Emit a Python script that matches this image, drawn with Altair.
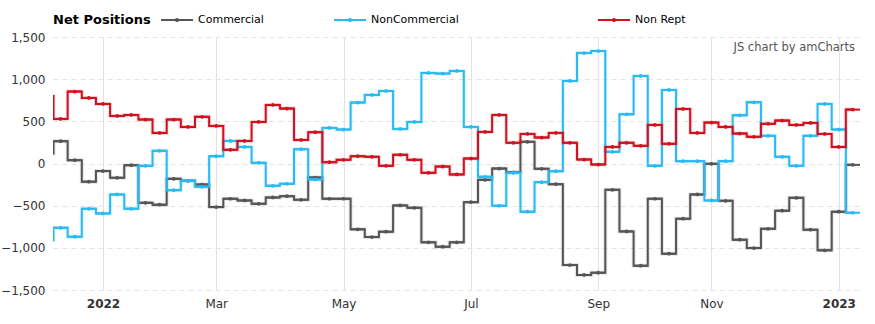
import altair as alt
import pandas as pd

# weekly report dates (first one lies just left of the visible window)
dates = pd.date_range("2021-12-05", periods=58, freq="7D").strftime("%Y-%m-%d").tolist()

commercial = [120, 265, 40, -215, -90, -170, -20, -466, -489, -182, -205, -249, -517, -418,
              -438, -478, -403, -387, -430, -166, -418, -418, -781, -872, -809, -497, -525,
              -935, -987, -935, -458, -193, -60, -105, 257, -63, -245, -1204, -1322, -1295,
              -312, -805, -1212, -418, -1070, -655, -367, -4, -442, -904, -1003, -774, -560,
              -407, -785, -1030, -572, -16]
noncommercial = [-910, -762, -868, -537, -592, -367, -537, -28, 150, -316, -205, -276, 87, 268,
                 197, 8, -264, -241, 170, -189, 422, 403, 722, 813, 860, 410, 493,
                 1074, 1066, 1097, 434, -158, -501, -110, -572, -221, -91, 979, 1310, 1334,
                 138, 584, 1038, -28, 872, 28, 28, -438, 28, 572, 726, 328, 79, -28, 328, 707, 403, -584]
nonrept = [800, 529, 853, 778, 707, 564, 576, 521, 363, 521, 434, 553, 446, 162,
           268, 493, 695, 651, 280, 371, 16, 43, 87, 79, -28, 103, 43,
           -111, -36, -130, 59, 375, 576, 245, 351, 308, 363, 245, 47, -12,
           197, 245, 209, 458, 233, 647, 363, 485, 434, 355, 316, 470, 509, 458, 481, 351, 197, 639]

series = ["Commercial", "NonCommercial", "Non Rept"]
colors = ["#555555", "#2bb9f2", "#d2111f"]
y_ticks = [-1500, -1000, -500, 0, 500, 1000, 1500]
watermark = ["JS chart by amCharts"]
legend_title = "Net Positions"

# layout constants (pixels, relative to the plot area)
LEGEND_X = {"Commercial": 0, "NonCommercial": 280, "Non Rept": 544}
LEGEND_Y = -34

df = pd.DataFrame({"date": dates, "Commercial": commercial,
                   "NonCommercial": noncommercial, "Non Rept": nonrept})
long = df.melt("date", var_name="series", value_name="value")

FONT = "DejaVu Sans"
SHIFT = "259200000"  # 3 days, to map week-start grid dates to their month

x_scale = alt.Scale(type="utc", domain=[
    alt.DateTime(year=2021, month=12, date=8, hours=6, utc=True),
    alt.DateTime(year=2023, month=1, date=11, hours=12, utc=True)])

x_axis = alt.Axis(
    values=[alt.DateTime(year=2022, month=1, date=2, utc=True),
            alt.DateTime(year=2022, month=2, date=27, utc=True),
            alt.DateTime(year=2022, month=5, date=1, utc=True),
            alt.DateTime(year=2022, month=7, date=3, utc=True),
            alt.DateTime(year=2022, month=9, date=4, utc=True),
            alt.DateTime(year=2022, month=10, date=30, utc=True),
            alt.DateTime(year=2023, month=1, date=1, utc=True)],
    labelExpr=f"utcFormat(datum.value + {SHIFT}, '%m') == '01' ? utcFormat(datum.value + {SHIFT}, '%Y') : utcFormat(datum.value + {SHIFT}, '%b')",
    labelFontWeight={"condition": {"test": f"utcFormat(datum.value + {SHIFT}, '%m') == '01'", "value": "bold"}, "value": "normal"},
    grid=True, gridColor="#e2e2e2", gridWidth=1, domain=False, ticks=False,
    labelPadding=8, labelFontSize=12, labelColor="#333333", labelFont=FONT, title=None,
)
y_axis = alt.Axis(
    values=y_ticks, format=",.0f", grid=True, gridDash=[5, 4], gridColor="#e4e4e4",
    domain=False, ticks=False, labelPadding=8, labelFontSize=12, labelColor="#333333",
    labelFont=FONT, title=None,
)
y_scale = alt.Scale(domain=[-1500, 1500], nice=False, zero=False)


def series_layer(i):
    name, col = series[i], colors[i]
    legend_kwargs = dict(
        orient="none", legendX=LEGEND_X[name], legendY=LEGEND_Y, direction="horizontal",
        padding=0,
        symbolType="M-1,0H1M-0.07,0A0.07,0.07,0,1,1,0.07,0A0.07,0.07,0,1,1,-0.07,0",
        symbolSize=1024, symbolStrokeWidth=2, symbolOpacity=1, labelOffset=4,
        labelFont=FONT, labelFontSize=11, labelColor="#000000",
    )
    if i == 0:
        legend_kwargs.update(title=legend_title, titleOrient="left", titleFont=FONT,
                             titleFontSize=13, titleFontWeight="bold", titleColor="#000000",
                             titlePadding=9, titleBaseline="top")
    else:
        legend_kwargs.update(title=None)
    color = alt.Color("series:N", scale=alt.Scale(domain=[name], range=[col]),
                      legend=alt.Legend(**legend_kwargs))

    base = alt.Chart(long).transform_filter(alt.datum.series == name).encode(
        x=alt.X("date:T", scale=x_scale, axis=x_axis),
        y=alt.Y("value:Q", scale=y_scale, axis=y_axis),
        color=color,
    )
    lines = base.mark_line(interpolate="step", strokeWidth=2, clip=True)
    halo = base.mark_line(interpolate="step", strokeWidth=4, opacity=0.15, clip=True)
    ends = alt.Chart(long).transform_filter(alt.datum.series == name).transform_calculate(
        lo="time(toDate(datum.date)) - 302400000",
        hi="time(toDate(datum.date)) + 302400000",
    ).mark_rule(strokeWidth=2, clip=True).encode(
        x=alt.X("lo:T", scale=x_scale, axis=x_axis),
        x2="hi:T",
        y=alt.Y("value:Q", scale=y_scale, axis=y_axis),
        color=color,
    )
    points = base.mark_circle(size=14, opacity=1, clip=True)
    return alt.layer(lines, halo, ends, points)


wm = alt.Chart(pd.DataFrame({"t": watermark})).mark_text(
    align="right", baseline="middle", font=FONT, fontSize=11.5, color="#555555"
).encode(text="t:N", x=alt.value(802), y=alt.value(11))

chart = alt.layer(series_layer(0), series_layer(1), series_layer(2), wm).resolve_scale(
    color="independent"
).resolve_legend(color="independent").properties(
    width=807, height=253,
    padding={"left": 53, "top": 37, "right": 15, "bottom": 34},
    autosize=alt.AutoSizeParams(type="none"),
    background="white",
).configure_view(stroke=None)

chart.save("out.html", embed_options={"renderer": "svg", "actions": False})
